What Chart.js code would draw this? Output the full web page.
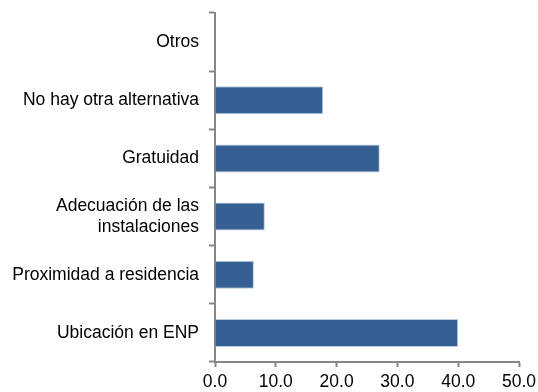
<!DOCTYPE html>
<html>
<head>
<meta charset="utf-8">
<script src="https://cdn.jsdelivr.net/npm/chart.js@4/dist/chart.umd.min.js"></script>
<style>
  html, body { margin: 0; padding: 0; background: #fff; }
  #wrap { width: 538px; height: 392px; }
</style>
</head>
<body>
<div id="wrap"><canvas id="motivosChart" width="538" height="392"></canvas></div>
<script>
// Categories, top to bottom
const categories = [
  'Otros',
  'No hay otra alternativa',
  'Gratuidad',
  ['Adecuación de las', 'instalaciones'],
  'Proximidad a residencia',
  'Ubicación en ENP'
];
const values = [0, 17.8, 27.1, 8.2, 6.4, 40.0];
const xTicks = [0, 10, 20, 30, 40, 50];

const axisGrey = '#868686';
const font = { family: '"Liberation Sans", Arial, sans-serif', size: 17.5 };

const ctx = document.getElementById('motivosChart').getContext('2d');
const motivosChart = new Chart(ctx, {
  type: 'bar',
  data: {
    labels: categories,
    datasets: [{
      data: values,
      backgroundColor: '#376092',
      borderColor: '#b9cde5',
      borderWidth: 1,
      borderSkipped: 'start',
      barPercentage: 0.48,
      categoryPercentage: 1,
    }],
  },
  options: {
    indexAxis: 'y',
    responsive: false,
    animation: false,
    layout: { padding: { top: 13, right: 19, left: 0, bottom: 0 } },
    plugins: {
      legend: { display: false },
      tooltip: { enabled: false },
    },
    scales: {
      x: {
        min: 0,
        max: 50,
        afterBuildTicks: (scale) => {
          scale.ticks = xTicks.map(v => ({ value: v }));
        },
        afterFit: (scale) => {
          scale.height = 30;
          scale.paddingLeft = 0;
          scale.paddingRight = 0;
        },
        border: { color: axisGrey, width: 2 },
        grid: {
          drawOnChartArea: false,
          drawTicks: true,
          tickLength: 5,
          tickWidth: 2,
          tickColor: axisGrey,
        },
        ticks: {
          color: '#000',
          font: font,
          padding: 5,
          maxRotation: 0,
          callback: (v) => Number(v).toFixed(1),
        },
      },
      y: {
        afterFit: (scale) => {
          scale.width = 215;
          scale.paddingTop = 0;
          scale.paddingBottom = 0;
        },
        border: { color: axisGrey, width: 2 },
        grid: {
          drawOnChartArea: false,
          drawTicks: true,
          tickLength: 6,
          tickWidth: 2,
          tickColor: axisGrey,
          offset: true,
        },
        ticks: {
          color: '#000',
          font: font,
          padding: 10,
        },
      },
    },
  },
});
</script>
</body>
</html>
